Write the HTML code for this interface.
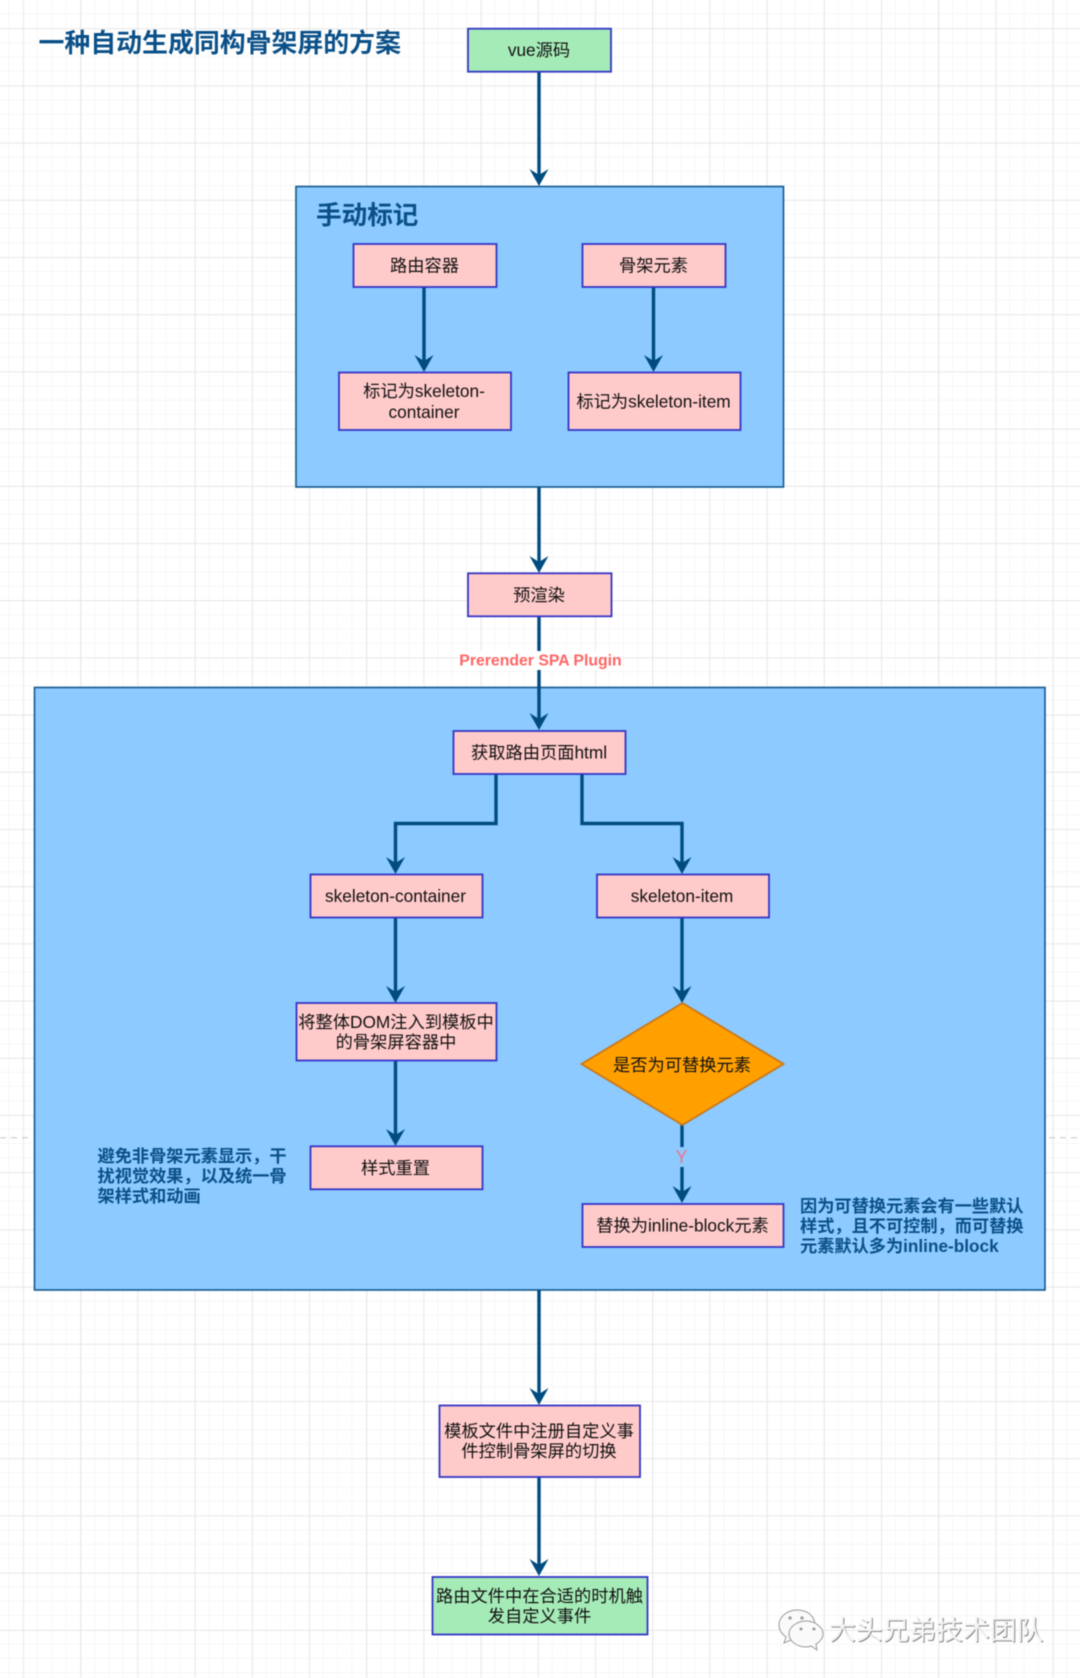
<!DOCTYPE html>
<html lang="zh"><head><meta charset="utf-8"><title>一种自动生成同构骨架屏的方案</title>
<style>
html,body{margin:0;padding:0;background:#fff}
svg{display:block;filter:blur(.45px)}
text{font-family:"Liberation Sans","Noto Sans CJK SC",sans-serif;font-size:17.25px;fill:#111;text-anchor:middle}
.n{font-weight:700;fill:#0a5088;text-anchor:start;font-size:17.2px}
.b{fill:#ffcaca;stroke:#3535c6;stroke-width:1.8}
.g{fill:#a5ebb7;stroke:#3535c6;stroke-width:1.8}
.p{fill:#8ccaff;stroke:#13588e;stroke-width:1.6}
.l{fill:none;stroke:#004c80;stroke-width:3.4}
.a{fill:#004c80}
</style></head><body>
<svg xmlns="http://www.w3.org/2000/svg" width="1080" height="1678" viewBox="0 0 1080 1678">
<defs>
<pattern id="m" x="9" y="14.2" width="14.3" height="14.3" patternUnits="userSpaceOnUse"><path d="M14.3 0V14.3M0 14.3H14.3" fill="none" stroke="#f0f0f0" stroke-width="1"/></pattern>
<pattern id="M" x="23.3" y="28.5" width="57.2" height="57.2" patternUnits="userSpaceOnUse"><path d="M0 0V57.2M0 0H57.2" fill="none" stroke="#e2e2e2" stroke-width="1.3"/></pattern>
<polygon id="h" points="0,0 -9.5,-17 0,-11 9.5,-17"/>
</defs>
<rect width="1080" height="1678" fill="#fff"/>
<rect width="1080" height="1678" fill="url(#m)"/>
<rect width="1080" height="1678" fill="url(#M)"/>
<path d="M0 1137.7H31M1049 1137.7H1080" stroke="#c4c4c4" stroke-width="1" stroke-dasharray="6 5" fill="none"/>

<text x="38.5" y="52" style="font-size:25.9px;font-weight:700;fill:#0a5088;text-anchor:start">一种自动生成同构骨架屏的方案</text>

<rect class="p" x="296" y="186.5" width="487.5" height="300.5"/>
<rect class="p" x="34.5" y="687.5" width="1010.5" height="602.5"/>

<!-- connectors -->
<path class="l" d="M539 72V175"/><use href="#h" class="a" x="539" y="186"/>
<path class="l" d="M424 287V362"/><use href="#h" class="a" x="424" y="372"/>
<path class="l" d="M653.5 287V362"/><use href="#h" class="a" x="653.5" y="372"/>
<path class="l" d="M539 487V563"/><use href="#h" class="a" x="539" y="573"/>
<path class="l" d="M539 616V720"/><use href="#h" class="a" x="539" y="730"/>
<path class="l" d="M496 774V823.5H395.5V864"/><use href="#h" class="a" x="395.5" y="874"/>
<path class="l" d="M582 774V823.5H682V864"/><use href="#h" class="a" x="682" y="874"/>
<path class="l" d="M395.5 917V993"/><use href="#h" class="a" x="395.5" y="1003"/>
<path class="l" d="M682 917V993"/><use href="#h" class="a" x="682" y="1003"/>
<path class="l" d="M395.5 1061V1136"/><use href="#h" class="a" x="395.5" y="1146"/>
<path class="l" d="M682 1125V1193"/><use href="#h" class="a" x="682" y="1203"/>
<path class="l" d="M539 1290V1395"/><use href="#h" class="a" x="539" y="1405"/>
<path class="l" d="M539 1477V1566"/><use href="#h" class="a" x="539" y="1576"/>

<!-- edge labels -->
<rect x="458" y="651" width="164" height="19" fill="#fff"/>
<path d="M458 657.6H622" stroke="#f0f0f0" stroke-width="1"/>
<text x="540.5" y="665.5" style="font-size:15.8px;font-weight:700;fill:#ff6666">Prerender SPA Plugin</text>
<rect x="672" y="1147" width="20" height="20" fill="#8ccaff"/>
<text x="681.5" y="1163" style="font-size:18px;fill:#f0728a">Y</text>

<!-- nodes -->
<rect class="g" x="468" y="28.7" width="143" height="43"/>
<text x="539" y="56">vue源码</text>

<text x="316" y="224" style="font-size:25.6px;font-weight:700;fill:#0a5088;text-anchor:start">手动标记</text>

<rect class="b" x="353.5" y="244" width="143" height="43"/>
<text x="424.5" y="271.5">路由容器</text>
<rect class="b" x="582.5" y="244" width="143" height="43"/>
<text x="653.5" y="271.5">骨架元素</text>
<rect class="b" x="339" y="372.5" width="172" height="57.5"/>
<text x="424" y="397">标记为skeleton-</text>
<text x="424" y="418">container</text>
<rect class="b" x="568.5" y="372.5" width="172" height="57.5"/>
<text x="653.5" y="407.5">标记为skeleton-item</text>

<rect class="b" x="468" y="573.3" width="143.5" height="43"/>
<text x="539" y="601">预渲染</text>

<rect class="b" x="453.5" y="731" width="172" height="43"/>
<text x="539" y="758.5">获取路由页面html</text>

<rect class="b" x="310.5" y="874.5" width="172" height="43"/>
<text x="395.5" y="902">skeleton-container</text>
<rect class="b" x="597" y="874.5" width="172" height="43"/>
<text x="682" y="902">skeleton-item</text>

<rect class="b" x="296.5" y="1003" width="200" height="57.5"/>
<text x="396" y="1028">将整体DOM注入到模板中</text>
<text x="396" y="1048">的骨架屏容器中</text>

<polygon points="682.5,1003 783.5,1064 682.5,1125 581.5,1064" fill="#ffa000" stroke="#c9771a" stroke-width="1.8"/>
<text x="682" y="1071">是否为可替换元素</text>

<rect class="b" x="310.5" y="1146.3" width="172" height="43"/>
<text x="395.5" y="1174">样式重置</text>

<rect class="b" x="582.5" y="1204" width="201" height="43"/>
<text x="682.5" y="1231.5">替换为inline-block元素</text>

<rect class="b" x="439.5" y="1405.5" width="200.5" height="71.5"/>
<text x="539" y="1437">模板文件中注册自定义事</text>
<text x="539" y="1457">件控制骨架屏的切换</text>

<rect class="g" x="432.5" y="1577" width="215" height="57.5"/>
<text x="539.5" y="1602">路由文件中在合适的时机触</text>
<text x="539.5" y="1622">发自定义事件</text>

<!-- notes -->
<text class="n" x="97.5" y="1162">避免非骨架元素显示，干</text>
<text class="n" x="97.5" y="1182">扰视觉效果，以及统一骨</text>
<text class="n" x="97.5" y="1202">架样式和动画</text>
<text class="n" x="800" y="1212">因为可替换元素会有一些默认</text>
<text class="n" x="800" y="1232">样式，且不可控制，而可替换</text>
<text class="n" x="800" y="1252">元素默认多为inline-block</text>

<!-- watermark -->
<g fill="#fafafa" stroke="#9a9a9a" stroke-width="1">
<path d="M797 1610c-10 0-18 7-18 15 0 5 3 9 7 12l-2 6 7-3c2 .5 4 1 6 1 10 0 18-7 18-16s-8-15-18-15z"/>
<path d="M806 1621c-9 0-17 6-17 13s8 13 17 13c2 0 3 0 5-1l6 4-1-6c4-2 7-6 7-10 0-7-8-13-17-13z"/>
</g>
<g fill="#999"><circle cx="790" cy="1618" r="1.6"/><circle cx="802" cy="1618" r="1.6"/><circle cx="801" cy="1629" r="1.5"/><circle cx="814" cy="1629" r="1.5"/></g>
<text x="830" y="1640.5" style="font-size:26.8px;fill:#8a8a8a;text-anchor:start">大头兄弟技术团队</text>
<text x="829" y="1639.5" style="font-size:26.8px;fill:#f4f4f4;text-anchor:start">大头兄弟技术团队</text>
</svg>
</body></html>
